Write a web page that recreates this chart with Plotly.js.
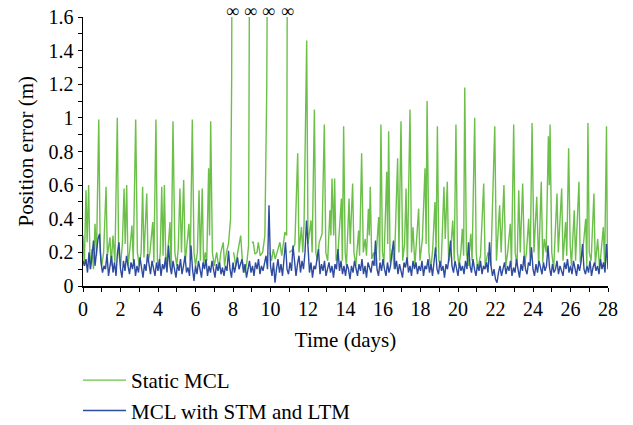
<!DOCTYPE html>
<html>
<head>
<meta charset="utf-8">
<script src="https://cdn.plot.ly/plotly-3.0.1.min.js"></script>
<style>
html,body{margin:0;padding:0;background:#fff;}
#chart{width:633px;height:425px;}
</style>
</head>
<body>
<div id="chart"></div>
<script>
// Static MCL: vertices (days, metres); null = line break (error went to infinity)
var staticDays = [
0,0.07,0.16,0.22,0.3,0.38,0.48,0.56,0.64,0.72,0.84,0.92,1.0,1.1,1.23,1.3,1.44,1.5,1.6,1.7,
1.83,1.9,2.0,2.1,2.19,2.25,2.33,2.4,2.5,2.61,2.68,2.81,2.9,3.0,3.1,3.18,3.25,3.4,3.47,3.57,
3.72,3.78,3.89,3.97,4.05,4.12,4.2,4.27,4.34,4.42,4.52,4.64,4.7,4.8,4.9,5.0,5.08,5.17,5.25,5.37,
5.45,5.55,5.65,5.72,5.83,5.92,6.0,6.1,6.19,6.26,6.36,6.43,6.52,6.6,6.7,6.75,6.81,6.9,7.0,7.13,
7.25,7.35,7.48,7.55,7.65,7.76,7.87,7.93,7.96,7.97,
8.03,8.15,8.25,8.41,8.5,8.64,8.75,8.83,8.91,8.92,
9.0,9.08,9.17,9.28,9.35,9.45,9.58,9.7,9.8,9.88,9.89,
9.97,10.05,10.15,10.25,10.35,10.5,10.6,10.77,10.86,10.92,10.93,
11.0,11.13,11.3,11.45,11.52,11.65,11.72,11.79,11.93,12.0,12.16,12.22,12.34,12.42,12.5,12.6,12.75,12.87,12.95,13.05,
13.17,13.22,13.28,13.37,13.42,13.5,13.6,13.78,13.83,13.9,13.98,14.05,14.19,14.25,14.38,14.45,14.55,14.7,14.75,14.86,
14.95,15.05,15.12,15.22,15.27,15.32,15.4,15.5,15.6,15.77,15.82,15.89,15.97,16.05,16.2,16.25,16.3,16.38,16.5,16.6,
16.78,16.85,16.96,17.05,17.15,17.23,17.3,17.44,17.52,17.6,17.7,17.9,17.97,18.1,18.24,18.3,18.35,18.45,18.55,18.65,
18.77,18.83,18.9,18.98,19.1,19.25,19.32,19.43,19.5,19.6,19.72,19.8,19.89,19.97,20.05,20.15,20.23,20.3,20.36,20.45,
20.55,20.68,20.75,20.89,20.97,21.05,21.2,21.37,21.45,21.6,21.75,21.96,22.05,22.22,22.3,22.45,22.55,22.65,22.79,22.85,
22.97,23.05,23.15,23.24,23.32,23.45,23.55,23.65,23.77,23.85,23.95,24.05,24.2,24.3,24.44,24.52,24.6,24.7,24.82,24.87,
24.91,25.0,25.1,25.28,25.35,25.53,25.6,25.74,25.8,25.9,25.98,26.05,26.2,26.27,26.45,26.52,26.65,26.81,26.87,26.93,
27.0,27.1,27.25,27.32,27.45,27.55,27.75,27.82,27.92,27.97,28
];
var staticErr = [
0.3,0.12,0.57,0.26,0.6,0.1,0.22,0.1,0.37,0.18,0.99,0.2,0.12,0.2,0.59,0.18,0.29,0.12,0.3,0.14,
1.0,0.2,0.12,0.25,0.58,0.25,0.6,0.12,0.22,0.36,0.15,0.99,0.2,0.12,0.2,0.59,0.17,0.55,0.14,0.2,
0.38,0.14,0.99,0.15,0.1,0.2,0.59,0.18,0.6,0.11,0.2,0.38,0.09,0.98,0.2,0.12,0.22,0.58,0.2,0.63,
0.14,0.25,0.37,0.15,0.99,0.2,0.12,0.2,0.57,0.15,0.58,0.12,0.2,0.15,0.7,0.3,0.98,0.2,0.12,0.2,
0.1,0.2,0.26,0.12,0.2,0.25,0.4,1.25,3,null,
0.2,0.12,0.2,0.3,0.15,0.08,0.15,0.24,3,null,
0.26,0.26,0.19,0.2,0.26,0.18,0.2,0.3,1.17,3,null,
0.2,0.15,0.22,0.16,0.2,0.26,0.18,0.32,0.3,3,null,
0.2,0.21,0.25,0.79,0.2,0.35,0.2,0.37,1.46,0.25,0.39,0.2,1.05,0.2,0.15,0.26,0.31,0.96,0.2,0.15,
0.45,0.3,0.64,0.3,0.64,0.15,0.2,0.52,0.15,0.95,0.2,0.12,0.52,0.25,0.61,0.2,0.12,0.33,0.18,0.79,
0.2,0.28,0.18,0.46,0.3,0.59,0.16,0.2,0.12,0.41,0.15,0.96,0.2,0.14,0.68,0.25,0.92,0.14,0.22,0.1,
0.76,0.2,0.98,0.15,0.25,0.58,0.12,1.05,0.2,0.35,0.12,0.46,0.15,0.28,0.7,0.25,1.1,0.2,0.1,0.22,
0.5,0.2,0.95,0.15,0.12,0.59,0.28,0.62,0.14,0.2,0.39,0.15,0.96,0.2,0.12,0.2,0.34,0.18,1.18,0.2,
0.12,0.31,0.15,1.0,0.2,0.1,0.18,0.61,0.12,0.2,0.12,0.95,0.15,0.48,0.2,0.6,0.12,0.2,0.37,0.12,
0.96,0.2,0.12,0.57,0.2,0.61,0.12,0.2,0.4,0.14,0.97,0.2,0.53,0.12,0.62,0.14,0.28,0.2,0.89,0.6,
0.96,0.2,0.1,0.55,0.2,0.58,0.15,0.38,0.18,0.82,0.25,0.12,0.45,0.15,0.62,0.14,0.2,0.4,0.12,0.97,
0.2,0.15,0.55,0.12,0.28,0.1,0.35,0.12,0.95,0.15,0.28
];
// MCL with STM and LTM: sampled every 0.08 days from day 0
var adaptiveStep = 0.08;
var adaptiveErr = [
0.15,0.12,0.16,0.08,0.2,0.1,0.18,0.27,0.12,0.2,0.28,0.31,0.14,0.08,0.12,0.1,0.19,0.06,0.12,0.18,0.08,0.14,0.06,0.2,0.26,
0.1,0.05,0.15,0.09,0.18,0.12,0.07,0.14,0.1,0.16,0.06,0.12,0.08,0.17,0.11,0.05,0.13,0.09,0.19,0.12,0.07,0.15,0.1,0.06,0.14,
0.09,0.16,0.06,0.13,0.1,0.17,0.08,0.24,0.12,0.07,0.15,0.1,0.05,0.13,0.09,0.16,0.07,0.12,0.18,0.08,0.11,0.06,0.24,0.1,0.03,
0.12,0.07,0.15,0.09,0.05,0.14,0.1,0.16,0.06,0.12,0.08,0.15,0.1,0.05,0.13,0.09,0.14,0.07,0.11,0.06,0.12,0.09,0.21,0.1,0.05,
0.14,0.08,0.12,0.17,0.1,0.14,0.16,0.08,0.13,0.05,0.11,0.15,0.08,0.12,0.06,0.14,0.1,0.16,0.07,0.12,0.09,0.15,0.18,0.1,0.48,
0.12,0.06,0.14,0.02,0.1,0.16,0.08,0.13,0.06,0.15,0.26,0.1,0.07,0.14,0.09,0.24,0.12,0.06,0.13,0.18,0.08,0.15,0.1,0.2,0.39,
0.2,0.08,0.14,0.05,0.12,0.1,0.16,0.22,0.07,0.13,0.09,0.15,0.06,0.11,0.14,0.08,0.12,0.05,0.13,0.1,0.22,0.09,0.15,0.07,0.12,
0.06,0.13,0.1,0.04,0.12,0.08,0.15,0.1,0.06,0.13,0.09,0.16,0.07,0.12,0.05,0.14,0.1,0.08,0.15,0.12,0.27,0.1,0.06,0.14,0.09,
0.16,0.1,0.06,0.14,0.08,0.12,0.18,0.27,0.1,0.15,0.07,0.13,0.09,0.05,0.14,0.11,0.17,0.08,0.12,0.06,0.15,0.1,0.14,0.07,0.12,
0.09,0.15,0.06,0.12,0.1,0.16,0.08,0.13,0.06,0.14,0.23,0.1,0.07,0.15,0.09,0.12,0.05,0.13,0.1,0.17,0.27,0.12,0.08,0.15,0.1,
0.06,0.14,0.09,0.12,0.07,0.15,0.1,0.26,0.12,0.08,0.16,0.1,0.06,0.13,0.09,0.15,0.07,0.12,0.1,0.14,0.08,0.26,0.12,0.06,0.1,
0.04,0.02,0.08,0.12,0.06,0.1,0.14,0.07,0.12,0.09,0.15,0.06,0.11,0.08,0.16,0.1,0.05,0.13,0.09,0.18,0.1,0.07,0.14,0.12,0.23,
0.1,0.06,0.13,0.08,0.15,0.1,0.07,0.14,0.09,0.12,0.24,0.11,0.06,0.13,0.08,0.1,0.15,0.07,0.12,0.09,0.06,0.14,0.1,0.16,0.08,
0.12,0.07,0.15,0.1,0.06,0.13,0.09,0.14,0.25,0.1,0.07,0.12,0.08,0.15,0.06,0.11,0.14,0.09,0.12,0.07,0.16,0.1,0.14,0.08,0.25,
0.1
];
// days where the static MCL error became infinite
var infDays = [7.95, 8.91, 9.87, 10.93];

var serif = 'Liberation Serif, Times New Roman, serif';
var traces = [
  {x: staticDays, y: staticErr, type: 'scatter', mode: 'lines', name: 'Static MCL',
   line: {color: '#6cc04a', width: 1.4}, connectgaps: false},
  {y: adaptiveErr, x0: 0, dx: adaptiveStep, type: 'scatter', mode: 'lines', name: 'MCL with STM and LTM',
   line: {color: '#2d4b9f', width: 1.4}}
];
var annotations = infDays.map(function(d){
  return {x: d, y: 1.6, xref: 'x', yref: 'y', text: '∞', showarrow: false, borderpad: 0,
          yanchor: 'bottom', yshift: -5, font: {family: serif, size: 18, color: '#000'}};
});
// y-axis title, drawn as rotated text left of the tick labels
annotations.push({x: (25 - 83) / 525, y: 0.5, xref: 'paper', yref: 'paper', text: 'Position error (m)',
  textangle: -90, showarrow: false, xanchor: 'center', yanchor: 'middle',
  font: {family: serif, size: 21, color: '#000'}});
var layout = {
  width: 633, height: 425,
  margin: {l: 83, r: 25, t: 17, b: 139, autoexpand: false},
  paper_bgcolor: '#fff', plot_bgcolor: '#fff',
  font: {family: serif, size: 20, color: '#000'},
  showlegend: true,
  legend: {xref: 'container', yref: 'container', x: 78 / 633, xanchor: 'left',
           y: 1 - 360 / 425, yanchor: 'top', orientation: 'v',
           font: {family: serif, size: 21}, itemwidth: 43, tracegroupgap: 0, borderwidth: 0},
  xaxis: {range: [0, 28], dtick: 2, tick0: 0, showgrid: false, zeroline: false, automargin: false,
          showline: true, linecolor: '#000', linewidth: 1.5, ticks: 'outside', ticklen: 4,
          tickcolor: '#000', tickwidth: 1, tickfont: {family: serif, size: 20},
          minor: {dtick: 1, ticks: 'outside', ticklen: 4, tickcolor: '#000', tickwidth: 1},
          title: {text: 'Time (days)', font: {family: serif, size: 21}, standoff: 14}},
  yaxis: {range: [0, 1.6], dtick: 0.2, tick0: 0, showgrid: false, zeroline: false, automargin: false,
          showline: true, linecolor: '#000', linewidth: 1.5, ticks: 'outside', ticklen: 4,
          tickcolor: '#000', tickwidth: 1, tickfont: {family: serif, size: 20},
          minor: {dtick: 0.1, ticks: 'outside', ticklen: 4, tickcolor: '#000', tickwidth: 1}},
  annotations: annotations
};
Plotly.newPlot('chart', traces, layout, {displayModeBar: false, staticPlot: true});
</script>
</body>
</html>
